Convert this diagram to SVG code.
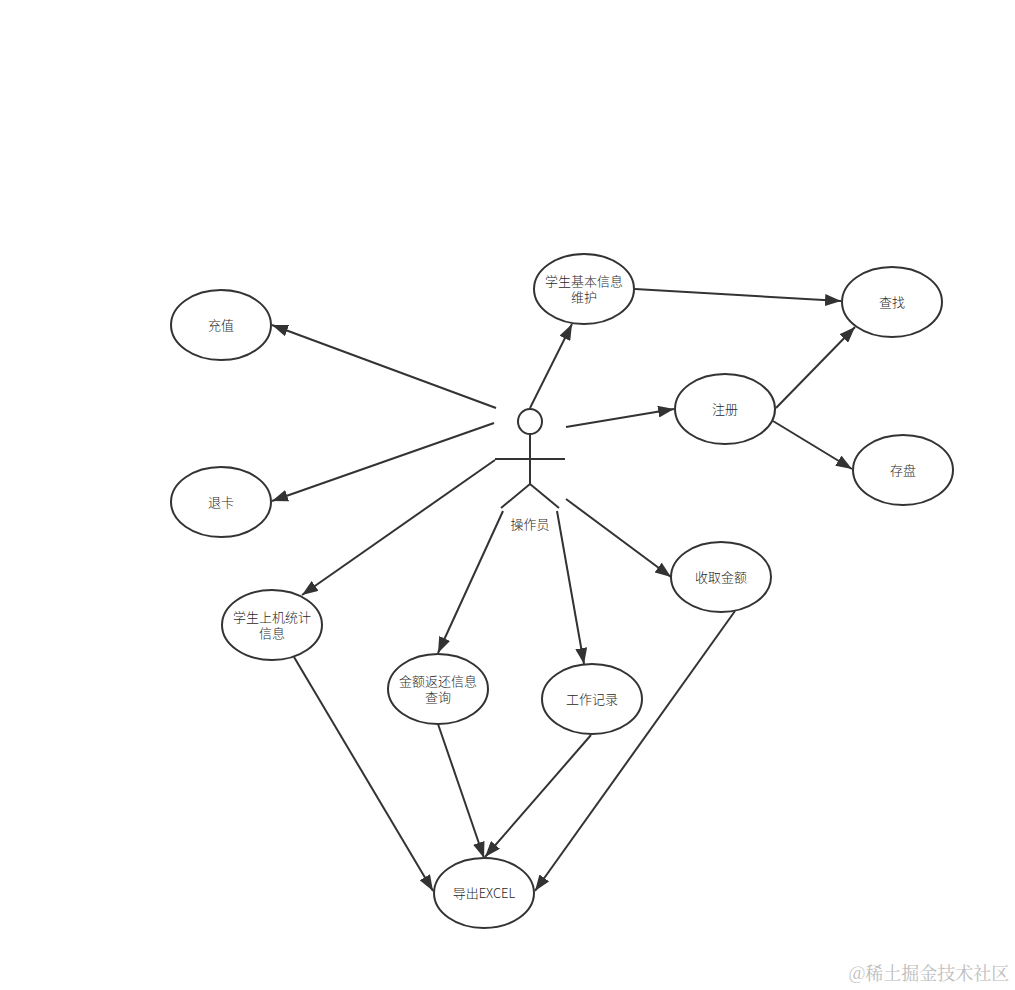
<svg xmlns="http://www.w3.org/2000/svg" width="1015" height="990" viewBox="0 0 1015 990">
<style>
.n ellipse{fill:#fff;stroke:#333;stroke-width:2}
.n line{stroke:#333;stroke-width:2}
.n polyline{fill:none;stroke:#333;stroke-width:2}
text{font-family:"Noto Sans CJK SC","Liberation Sans",sans-serif;font-size:13px;font-weight:300;fill:#1f1f1f;text-anchor:middle}
#connectors line{stroke:#333;stroke-width:2;marker-end:url(#a)}
text.w{font-family:"Noto Serif CJK SC","Noto Sans CJK SC",sans-serif;font-size:18px;font-weight:400;fill:#bdbdbd}
</style>
<defs><marker id="a" markerUnits="userSpaceOnUse" markerWidth="18" markerHeight="12" refX="16" refY="6" orient="auto"><path d="M0 0L16 6L0 12Z" fill="#333"/></marker></defs>
<rect width="1015" height="990" fill="#fff"/>
<g id="connectors">
<line x1="496" y1="408" x2="272" y2="325"/>
<line x1="494" y1="423" x2="272" y2="501"/>
<line x1="530" y1="408" x2="572" y2="324"/>
<line x1="566" y1="427" x2="674" y2="409"/>
<line x1="635" y1="289" x2="841" y2="301"/>
<line x1="776" y1="408" x2="855" y2="327"/>
<line x1="773" y1="421" x2="852" y2="469"/>
<line x1="495" y1="460" x2="302" y2="595"/>
<line x1="503" y1="511" x2="438" y2="653"/>
<line x1="557" y1="511" x2="584" y2="664"/>
<line x1="566" y1="499" x2="671" y2="577"/>
<line x1="294" y1="657" x2="433" y2="891"/>
<line x1="438" y1="724" x2="484" y2="858"/>
<line x1="591" y1="735" x2="485" y2="857"/>
<line x1="735" y1="611" x2="535" y2="891"/>
</g>
<g id="actor" class="n">
<ellipse cx="530" cy="421.500" rx="12" ry="12.500"/>
<line x1="530" y1="434" x2="530" y2="484"/>
<line x1="495" y1="459" x2="565" y2="459"/>
<polyline points="501,508 530,484 559,508"/>
<text x="530" y="529">操作员</text>
</g>
<g id="n1" class="n"><ellipse cx="221" cy="325" rx="50" ry="35"/><text x="221" y="330">充值</text></g>
<g id="n2" class="n"><ellipse cx="221" cy="502" rx="50" ry="35"/><text x="221" y="507">退卡</text></g>
<g id="n3" class="n"><ellipse cx="584" cy="289" rx="50" ry="35"/><text x="584" y="286">学生基本信息<tspan x="584" dy="16">维护</tspan></text></g>
<g id="n4" class="n"><ellipse cx="892" cy="302" rx="50" ry="35"/><text x="892" y="307">查找</text></g>
<g id="n5" class="n"><ellipse cx="725" cy="409" rx="50" ry="35"/><text x="725" y="414">注册</text></g>
<g id="n6" class="n"><ellipse cx="903" cy="470" rx="50" ry="35"/><text x="903" y="475">存盘</text></g>
<g id="n7" class="n"><ellipse cx="721" cy="577" rx="50" ry="35"/><text x="721" y="582">收取金额</text></g>
<g id="n8" class="n"><ellipse cx="272" cy="625" rx="50" ry="35"/><text x="272" y="622">学生上机统计<tspan x="272" dy="16">信息</tspan></text></g>
<g id="n9" class="n"><ellipse cx="438" cy="689" rx="50" ry="35"/><text x="438" y="686">金额返还信息<tspan x="438" dy="16">查询</tspan></text></g>
<g id="n10" class="n"><ellipse cx="592" cy="699" rx="50" ry="35"/><text x="592" y="704">工作记录</text></g>
<g id="n11" class="n"><ellipse cx="484" cy="893" rx="50" ry="35"/><text x="484" y="898">导出EXCEL</text></g>
<text class="w" x="929" y="980">@稀土掘金技术社区</text>
</svg>
